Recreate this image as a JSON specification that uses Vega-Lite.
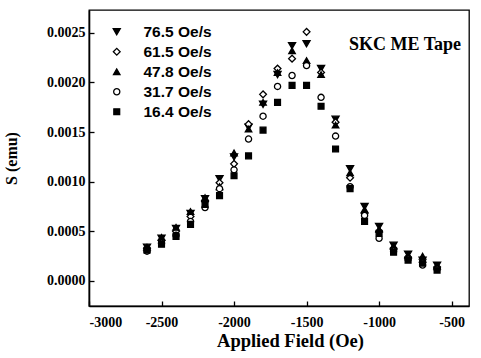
{
  "$schema": "https://vega.github.io/schema/vega-lite/v6.json",
  "width": 380,
  "height": 296,
  "autosize": "none",
  "padding": {"left": 89, "top": 10, "right": 12, "bottom": 52},
  "background": "white",
  "config": {
    "view": {"stroke": "black", "strokeWidth": 1.3},
    "axis": {"domainColor": "black", "tickColor": "black", "labelColor": "black", "titleColor": "black", "grid": false, "domainWidth": 1.6, "tickWidth": 1.3},
    "legend": {"title": null, "orient": "none", "legendX": 20, "legendY": 14, "labelFont": "Liberation Sans", "labelFontWeight": "bold", "labelFontSize": 15.5, "labelColor": "black", "labelOffset": 19, "rowPadding": 3, "symbolStrokeWidth": 1.3}
  },
  "data": {
    "values": [
      {"B": -2600, "r": "76.5 Oe/s", "S": 0.00034}, {"B": -2600, "r": "61.5 Oe/s", "S": 0.00033}, {"B": -2600, "r": "47.8 Oe/s", "S": 0.00034}, {"B": -2600, "r": "31.7 Oe/s", "S": 0.00030}, {"B": -2600, "r": "16.4 Oe/s", "S": 0.00031},
      {"B": -2500, "r": "76.5 Oe/s", "S": 0.00043}, {"B": -2500, "r": "61.5 Oe/s", "S": 0.00041}, {"B": -2500, "r": "47.8 Oe/s", "S": 0.00044}, {"B": -2500, "r": "31.7 Oe/s", "S": 0.00038}, {"B": -2500, "r": "16.4 Oe/s", "S": 0.00037},
      {"B": -2400, "r": "76.5 Oe/s", "S": 0.00053}, {"B": -2400, "r": "61.5 Oe/s", "S": 0.00050}, {"B": -2400, "r": "47.8 Oe/s", "S": 0.00054}, {"B": -2400, "r": "31.7 Oe/s", "S": 0.00046}, {"B": -2400, "r": "16.4 Oe/s", "S": 0.00045},
      {"B": -2300, "r": "76.5 Oe/s", "S": 0.00068}, {"B": -2300, "r": "61.5 Oe/s", "S": 0.00065}, {"B": -2300, "r": "47.8 Oe/s", "S": 0.00070}, {"B": -2300, "r": "31.7 Oe/s", "S": 0.00060}, {"B": -2300, "r": "16.4 Oe/s", "S": 0.00057},
      {"B": -2200, "r": "76.5 Oe/s", "S": 0.00083}, {"B": -2200, "r": "61.5 Oe/s", "S": 0.00080}, {"B": -2200, "r": "47.8 Oe/s", "S": 0.00084}, {"B": -2200, "r": "31.7 Oe/s", "S": 0.00074}, {"B": -2200, "r": "16.4 Oe/s", "S": 0.00077},
      {"B": -2100, "r": "76.5 Oe/s", "S": 0.00103}, {"B": -2100, "r": "61.5 Oe/s", "S": 0.00099}, {"B": -2100, "r": "47.8 Oe/s", "S": 0.00095}, {"B": -2100, "r": "31.7 Oe/s", "S": 0.00093}, {"B": -2100, "r": "16.4 Oe/s", "S": 0.00086},
      {"B": -2000, "r": "76.5 Oe/s", "S": 0.00125}, {"B": -2000, "r": "61.5 Oe/s", "S": 0.00118}, {"B": -2000, "r": "47.8 Oe/s", "S": 0.00129}, {"B": -2000, "r": "31.7 Oe/s", "S": 0.00112}, {"B": -2000, "r": "16.4 Oe/s", "S": 0.00106},
      {"B": -1900, "r": "76.5 Oe/s", "S": 0.00155}, {"B": -1900, "r": "61.5 Oe/s", "S": 0.00158}, {"B": -1900, "r": "47.8 Oe/s", "S": 0.00153}, {"B": -1900, "r": "31.7 Oe/s", "S": 0.00143}, {"B": -1900, "r": "16.4 Oe/s", "S": 0.00126},
      {"B": -1800, "r": "76.5 Oe/s", "S": 0.00178}, {"B": -1800, "r": "61.5 Oe/s", "S": 0.00188}, {"B": -1800, "r": "47.8 Oe/s", "S": 0.00180}, {"B": -1800, "r": "31.7 Oe/s", "S": 0.00166}, {"B": -1800, "r": "16.4 Oe/s", "S": 0.00152},
      {"B": -1700, "r": "76.5 Oe/s", "S": 0.00208}, {"B": -1700, "r": "61.5 Oe/s", "S": 0.00214}, {"B": -1700, "r": "47.8 Oe/s", "S": 0.00210}, {"B": -1700, "r": "31.7 Oe/s", "S": 0.00196}, {"B": -1700, "r": "16.4 Oe/s", "S": 0.00180},
      {"B": -1600, "r": "76.5 Oe/s", "S": 0.00237}, {"B": -1600, "r": "61.5 Oe/s", "S": 0.00224}, {"B": -1600, "r": "47.8 Oe/s", "S": 0.00232}, {"B": -1600, "r": "31.7 Oe/s", "S": 0.00207}, {"B": -1600, "r": "16.4 Oe/s", "S": 0.00197},
      {"B": -1500, "r": "76.5 Oe/s", "S": 0.00239}, {"B": -1500, "r": "61.5 Oe/s", "S": 0.00251}, {"B": -1500, "r": "47.8 Oe/s", "S": 0.00222}, {"B": -1500, "r": "31.7 Oe/s", "S": 0.00217}, {"B": -1500, "r": "16.4 Oe/s", "S": 0.00197},
      {"B": -1400, "r": "76.5 Oe/s", "S": 0.00214}, {"B": -1400, "r": "61.5 Oe/s", "S": 0.00210}, {"B": -1400, "r": "47.8 Oe/s", "S": 0.00208}, {"B": -1400, "r": "31.7 Oe/s", "S": 0.00185}, {"B": -1400, "r": "16.4 Oe/s", "S": 0.00176},
      {"B": -1300, "r": "76.5 Oe/s", "S": 0.00163}, {"B": -1300, "r": "61.5 Oe/s", "S": 0.00160}, {"B": -1300, "r": "47.8 Oe/s", "S": 0.00157}, {"B": -1300, "r": "31.7 Oe/s", "S": 0.00146}, {"B": -1300, "r": "16.4 Oe/s", "S": 0.00133},
      {"B": -1200, "r": "76.5 Oe/s", "S": 0.00113}, {"B": -1200, "r": "61.5 Oe/s", "S": 0.00104}, {"B": -1200, "r": "47.8 Oe/s", "S": 0.00109}, {"B": -1200, "r": "31.7 Oe/s", "S": 0.00095}, {"B": -1200, "r": "16.4 Oe/s", "S": 0.00093},
      {"B": -1100, "r": "76.5 Oe/s", "S": 0.00075}, {"B": -1100, "r": "61.5 Oe/s", "S": 0.00068}, {"B": -1100, "r": "47.8 Oe/s", "S": 0.00072}, {"B": -1100, "r": "31.7 Oe/s", "S": 0.00066}, {"B": -1100, "r": "16.4 Oe/s", "S": 0.00060},
      {"B": -1000, "r": "76.5 Oe/s", "S": 0.00055}, {"B": -1000, "r": "61.5 Oe/s", "S": 0.00050}, {"B": -1000, "r": "47.8 Oe/s", "S": 0.00052}, {"B": -1000, "r": "31.7 Oe/s", "S": 0.00043}, {"B": -1000, "r": "16.4 Oe/s", "S": 0.00048},
      {"B": -900, "r": "76.5 Oe/s", "S": 0.00036}, {"B": -900, "r": "61.5 Oe/s", "S": 0.00033}, {"B": -900, "r": "47.8 Oe/s", "S": 0.00035}, {"B": -900, "r": "31.7 Oe/s", "S": 0.00030}, {"B": -900, "r": "16.4 Oe/s", "S": 0.00029},
      {"B": -800, "r": "76.5 Oe/s", "S": 0.00027}, {"B": -800, "r": "61.5 Oe/s", "S": 0.00024}, {"B": -800, "r": "47.8 Oe/s", "S": 0.00026}, {"B": -800, "r": "31.7 Oe/s", "S": 0.00022}, {"B": -800, "r": "16.4 Oe/s", "S": 0.00021},
      {"B": -700, "r": "76.5 Oe/s", "S": 0.00021}, {"B": -700, "r": "61.5 Oe/s", "S": 0.00019}, {"B": -700, "r": "47.8 Oe/s", "S": 0.00025}, {"B": -700, "r": "31.7 Oe/s", "S": 0.00016}, {"B": -700, "r": "16.4 Oe/s", "S": 0.00018},
      {"B": -600, "r": "76.5 Oe/s", "S": 0.00016}, {"B": -600, "r": "61.5 Oe/s", "S": 0.00014}, {"B": -600, "r": "47.8 Oe/s", "S": 0.00015}, {"B": -600, "r": "31.7 Oe/s", "S": 0.00012}, {"B": -600, "r": "16.4 Oe/s", "S": 0.00011}
    ]
  },
  "layer": [
    {
      "mark": {"type": "point", "filled": true, "opacity": 1, "strokeWidth": 1.3},
      "encoding": {
        "x": {
          "field": "B", "type": "quantitative",
          "scale": {"domain": [-3000, -380], "nice": false, "zero": false},
          "axis": {
            "values": [-3000, -2750, -2500, -2250, -2000, -1750, -1500, -1250, -1000, -750, -500],
            "labelExpr": "datum.value % 500 === 0 ? '' + datum.value : ''",
            "tickSize": {"condition": {"test": "datum.value % 500 === 0", "value": -5}, "value": -3},
            "labelPadding": 14,
            "labelFont": "Liberation Serif", "labelFontWeight": "bold", "labelFontSize": 14,
            "title": "Applied Field (Oe)", "titleFont": "Liberation Serif", "titleFontWeight": "bold", "titleFontSize": 18.5, "titlePadding": 2, "titleX": 201
          }
        },
        "y": {
          "field": "S", "type": "quantitative",
          "scale": {"domain": [-0.000252, 0.00273], "nice": false, "zero": false},
          "axis": {
            "values": [0, 0.00025, 0.0005, 0.00075, 0.001, 0.00125, 0.0015, 0.00175, 0.002, 0.00225, 0.0025],
            "labelExpr": "abs(datum.value * 10000 % 5) < 0.01 || abs(datum.value * 10000 % 5 - 5) < 0.01 ? format(datum.value, '.4f') : ''",
            "tickSize": {"condition": {"test": "abs(datum.value * 10000 % 5) < 0.01 || abs(datum.value * 10000 % 5 - 5) < 0.01", "value": -5}, "value": -3},
            "labelPadding": 9,
            "labelFont": "Liberation Serif", "labelFontWeight": "bold", "labelFontSize": 14,
            "title": "S (emu)", "titleFont": "Liberation Serif", "titleFontWeight": "bold", "titleFontSize": 16, "titlePadding": 27
          }
        },
        "shape": {
          "field": "r", "type": "nominal",
          "scale": {"domain": ["76.5 Oe/s", "61.5 Oe/s", "47.8 Oe/s", "31.7 Oe/s", "16.4 Oe/s"], "range": ["triangle-down", "diamond", "triangle-up", "circle", "square"]}
        },
        "fill": {
          "field": "r", "type": "nominal",
          "scale": {"domain": ["76.5 Oe/s", "61.5 Oe/s", "47.8 Oe/s", "31.7 Oe/s", "16.4 Oe/s"], "range": ["black", "white", "black", "white", "black"]}
        },
        "stroke": {
          "field": "r", "type": "nominal",
          "scale": {"domain": ["76.5 Oe/s", "61.5 Oe/s", "47.8 Oe/s", "31.7 Oe/s", "16.4 Oe/s"], "range": ["black", "black", "black", "black", "black"]}
        },
        "size": {
          "field": "r", "type": "nominal",
          "scale": {"domain": ["76.5 Oe/s", "61.5 Oe/s", "47.8 Oe/s", "31.7 Oe/s", "16.4 Oe/s"], "range": [50, 34, 50, 26, 24]}
        }
      }
    },
    {
      "data": {"values": [{"label": "SKC ME Tape", "B": -1207, "S": 0.00238}]},
      "mark": {"type": "text", "font": "Liberation Serif", "fontWeight": "bold", "fontSize": 18, "align": "left", "baseline": "middle", "color": "black"},
      "encoding": {
        "x": {"field": "B", "type": "quantitative"},
        "y": {"field": "S", "type": "quantitative"},
        "text": {"field": "label"}
      }
    }
  ]
}
